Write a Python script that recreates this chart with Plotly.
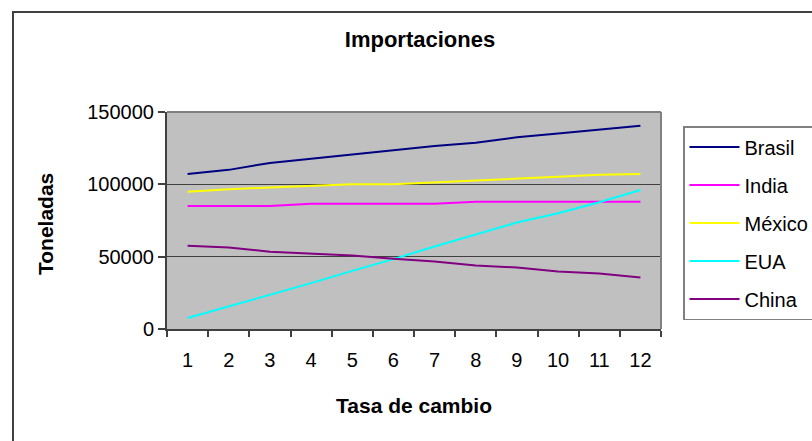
import plotly.graph_objects as go

# Tasa de cambio (eje x) e importaciones por país, en toneladas
tasa = ["1", "2", "3", "4", "5", "6", "7", "8", "9", "10", "11", "12"]

brasil = [107200, 110000, 114800, 117800, 120800, 123700, 126500, 128800, 132500, 135200, 138000, 140500]
india = [85100, 85100, 85100, 86500, 86500, 86500, 86500, 87900, 87900, 87900, 87900, 87900]
mexico = [94800, 96600, 97800, 98700, 100000, 100000, 101200, 102600, 104000, 105300, 106700, 107200]
eua = [7600, 15600, 23700, 31700, 40200, 48300, 57000, 65100, 73600, 80000, 87600, 96100]
china = [57500, 56400, 53400, 52000, 50800, 48500, 46700, 43900, 42500, 39800, 38400, 35600]

series = [
    ("Brasil", brasil, "#000080"),
    ("India", india, "#FF00FF"),
    ("México", mexico, "#FFFF00"),
    ("EUA", eua, "#00FFFF"),
    ("China", china, "#800080"),
]

FONT = "Liberation Sans, Arial, sans-serif"

fig = go.Figure()
for name, vals, color in series:
    fig.add_trace(go.Scatter(
        x=tasa, y=vals, name=name, mode="lines",
        line=dict(color=color, width=2),
        legendgroup=name,
    ))

W, H = 812, 441
L, R, T, B = 167, 151, 112, 112
pw, ph = W - L - R, H - T - B


def px(x):
    return (x - L) / pw


def py(y):
    return (H - B - y) / ph


fig.update_layout(
    width=W, height=H,
    margin=dict(l=L, r=R, t=T, b=B, autoexpand=False),
    paper_bgcolor="white",
    plot_bgcolor="#C0C0C0",
    font=dict(family=FONT, color="black", size=20),
    title=dict(
        text="<b>Importaciones</b>",
        x=px(420), xref="paper", xanchor="center",
        y=1 - 39 / H, yanchor="middle",
        font=dict(size=22, family=FONT),
    ),
    showlegend=True,
    legend=dict(
        x=px(683), y=py(126), xanchor="left", yanchor="top",
        bgcolor="white", bordercolor="#808080", borderwidth=1.5,
        font=dict(size=20, family=FONT),
        itemwidth=50, tracegroupgap=9,
        traceorder="grouped",
    ),
    xaxis=dict(
        type="category", range=[-0.5, 11.5],
        tickson="boundaries", ticks="outside", ticklen=6, tickwidth=1.5,
        tickcolor="#404040", ticklabelstandoff=12,
        showline=True, linecolor="#404040", linewidth=2,
        showgrid=False, zeroline=False,
        tickfont=dict(size=20),
    ),
    yaxis=dict(
        range=[0, 150000], dtick=50000, tickformat="d",
        ticks="outside", ticklen=7, tickwidth=1.5, tickcolor="#404040",
        showline=True, linecolor="#404040", linewidth=2,
        showgrid=True, gridcolor="#404040", gridwidth=1,
        zeroline=False,
        tickfont=dict(size=20),
    ),
    annotations=[
        dict(text="<b>Tasa de cambio</b>", xref="paper", yref="paper",
             x=px(414), y=py(405), xanchor="center", yanchor="middle",
             showarrow=False, font=dict(size=21)),
        dict(text="<b>Toneladas</b>", xref="paper", yref="paper",
             x=px(45), y=py(224), xanchor="center", yanchor="middle",
             textangle=-90, showarrow=False, font=dict(size=21)),
    ],
    shapes=[
        # borde superior y derecho del área de trazado
        dict(type="line", xref="paper", yref="paper", x0=0, x1=1, y0=1, y1=1,
             line=dict(color="#808080", width=2)),
        dict(type="line", xref="paper", yref="paper", x0=1, x1=1, y0=0, y1=1,
             line=dict(color="#808080", width=2)),
        # marco del gráfico
        dict(type="rect", xref="paper", yref="paper",
             x0=px(13), x1=px(W + 40), y0=py(H + 40), y1=py(12),
             line=dict(color="#404040", width=2), layer="below"),
    ],
)

fig.write_html("out.html")
